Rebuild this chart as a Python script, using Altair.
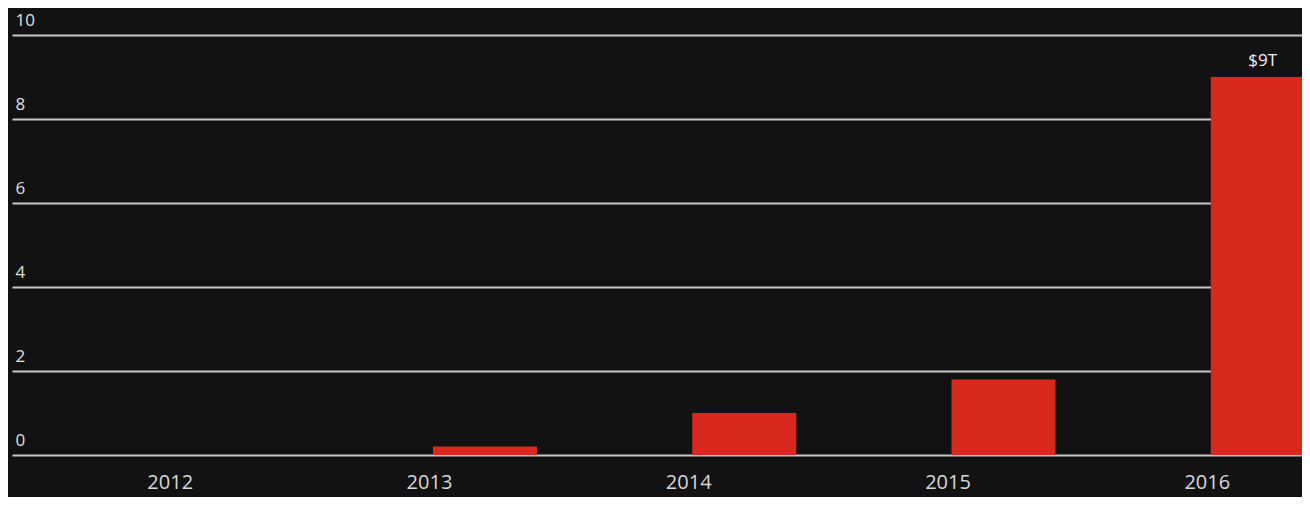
import altair as alt
import pandas as pd

years = [2012, 2013, 2014, 2015, 2016]
values = [0.0, 0.2, 1.0, 1.8, 9.0]
labels = ["", "", "", "", "$9T"]
y_ticks = [0, 2, 4, 6, 8, 10]

df = pd.DataFrame({"year": years, "value": values, "label": labels})

FONT = "Open Sans"

x = alt.X(
    "year:Q",
    scale=alt.Scale(domain=[2011.195, 2016.132], nice=False, zero=False),
    axis=alt.Axis(
        values=years, format="d", title=None, grid=False, domain=False, ticks=False,
        labelFont=FONT, labelFontSize=20, labelColor="#d8d8d8", labelOffset=-56,
        labelPadding=17, labelBaseline="top", labelFlush=False, labelOverlap=False,
    ),
)
y = alt.Y(
    "value:Q",
    scale=alt.Scale(domain=[0, 10], nice=False),
    axis=alt.Axis(
        values=y_ticks, title=None, domain=False, ticks=False,
        grid=True, gridColor="#c8c8c8", gridWidth=2, gridOpacity=1,
        labelFont=FONT, labelFontSize=17, labelColor="#e0e0e0",
        labelAlign="left", labelBaseline="alphabetic", labelPadding=-3,
        labelOffset=-10,
    ),
)

bars = alt.Chart(df).mark_bar(color="#d9291e", width=104, clip=True).encode(x=x, y=y)
text = alt.Chart(df).mark_text(
    font=FONT, fontSize=17, color="#f0f0f0", dy=-16, clip=False
).encode(x=alt.X("year:Q"), y=alt.Y("value:Q"), text="label:N")

chart = (
    alt.layer(bars, text)
    .properties(
        width=1290,
        height=420,
        background="#121212",
        padding={"left": 4, "top": 27, "right": 0, "bottom": 42},
        autosize=alt.AutoSizeParams(type="none"),
    )
    .configure_view(strokeWidth=0)
)

chart.save("out.html", embed_options={"renderer": "svg", "actions": False})
